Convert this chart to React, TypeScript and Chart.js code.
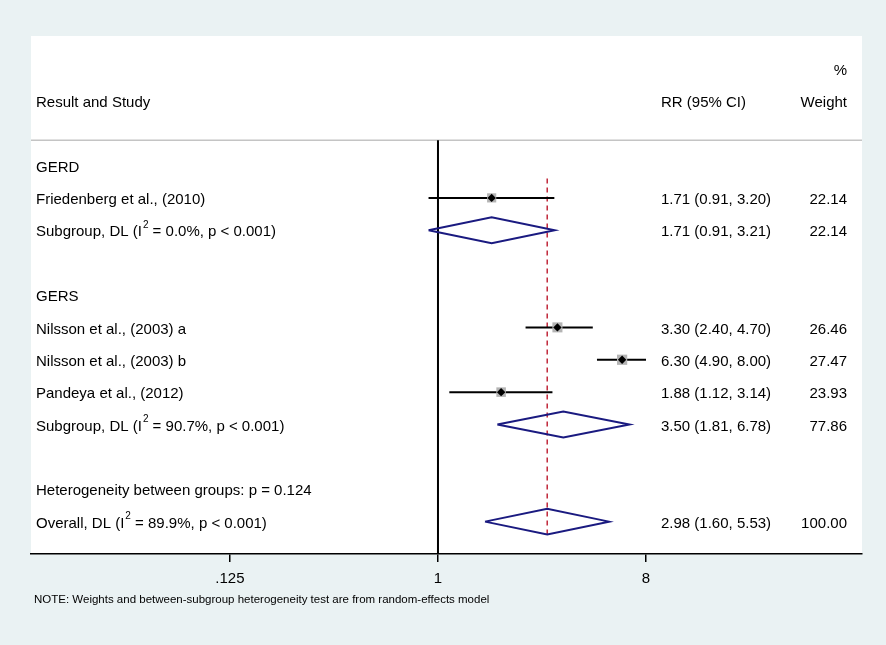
import React, { useEffect, useRef } from 'react';
import { Chart, registerables } from 'chart.js';

Chart.register(...registerables);

// ---------- data ----------
const headerStudy = 'Result and Study';
const headerEs = 'RR (95% CI)';
const headerPct = '%';
const headerWeight = 'Weight';

const groupLabels = ['GERD', 'GERS'];
const groupRows = [3, 7];

const studyNames = [
  'Friedenberg et al., (2010)',
  'Nilsson et al., (2003) a',
  'Nilsson et al., (2003) b',
  'Pandeya et al., (2012)',
];
const studyRR = [1.71, 3.3, 6.3, 1.88];
const studyLo = [0.91, 2.4, 4.9, 1.12];
const studyHi = [3.2, 4.7, 8.0, 3.14];
const studyWeight = [22.14, 26.46, 27.47, 23.93];
const studyRows = [4, 8, 9, 10];

const pooledNames = [
  'Subgroup, DL (I^2 = 0.0%, p < 0.001)',
  'Subgroup, DL (I^2 = 90.7%, p < 0.001)',
  'Overall, DL (I^2 = 89.9%, p < 0.001)',
];
const pooledRR = [1.71, 3.5, 2.98];
const pooledLo = [0.91, 1.81, 1.6];
const pooledHi = [3.21, 6.78, 5.53];
const pooledWeight = [22.14, 77.86, 100.0];
const pooledRows = [5, 11, 14];

const hetLabel = 'Heterogeneity between groups: p = 0.124';
const hetRow = 13;

const tickValues = [0.125, 1, 8];
const tickLabels = ['.125', '1', '8'];
const nullValue = 1;
const overallRR = pooledRR[2];

const noteText =
  'NOTE: Weights and between-subgroup heterogeneity test are from random-effects model';

// ---------- styling ----------
const FONT = '"Liberation Sans", Arial, sans-serif';
const BG = '#eaf2f3';
const NAVY = '#1a1a80';
const RED = '#c0283a';
const X_MIN = 0.01711;
const X_MAX = 69.3;
const Y_MIN = -1;
const Y_MAX = 15;
const DIAMOND_HALF = 0.4;
const SEP_ROW = 2.22;
const TEXT_DY = 2;

function drawRich(
  ctx: CanvasRenderingContext2D,
  text: string,
  x: number,
  y: number,
  align: 'left' | 'right'
) {
  const parts = text.split('^2');
  const mainFont = `15px ${FONT}`;
  const supFont = `10px ${FONT}`;
  ctx.textBaseline = 'middle';
  ctx.textAlign = 'left';
  ctx.font = mainFont;
  let total = 0;
  parts.forEach((p, i) => {
    ctx.font = mainFont;
    total += ctx.measureText(p).width;
    if (i < parts.length - 1) {
      ctx.font = supFont;
      total += ctx.measureText('2').width + 1;
    }
  });
  let cx = align === 'left' ? x : x - total;
  const yy = y + TEXT_DY;
  parts.forEach((p, i) => {
    ctx.font = mainFont;
    ctx.fillText(p, cx, yy);
    cx += ctx.measureText(p).width;
    if (i < parts.length - 1) {
      ctx.font = supFont;
      ctx.fillText('2', cx + 1, yy - 7);
      cx += ctx.measureText('2').width + 1;
    }
  });
}

const fmt = (v: number) => v.toFixed(2);

export default function App() {
  const ref = useRef<HTMLCanvasElement | null>(null);

  useEffect(() => {
    document.body.style.margin = '0';
    const canvas = ref.current;
    if (!canvas) return;

    const datasets: any[] = [];

    // black point markers (on top)
    datasets.push({
      type: 'scatter',
      data: studyRR.map((v, i) => ({ x: v, y: studyRows[i] })),
      pointStyle: 'rectRot',
      pointRadius: 4.2,
      backgroundColor: '#000',
      borderColor: '#000',
      borderWidth: 0,
      order: 0,
    });
    // grey weight squares
    datasets.push({
      type: 'scatter',
      data: studyRR.map((v, i) => ({ x: v, y: studyRows[i] })),
      pointStyle: 'rect',
      pointRadius: studyWeight.map((w) => (Math.sqrt(w) * 1.95) / Math.SQRT2),
      backgroundColor: '#b4b4b4',
      borderWidth: 0,
      order: 1,
    });
    // confidence interval lines
    studyRR.forEach((_, i) => {
      datasets.push({
        type: 'line',
        data: [
          { x: studyLo[i], y: studyRows[i] },
          { x: studyHi[i], y: studyRows[i] },
        ],
        borderColor: '#000',
        borderWidth: 2,
        pointRadius: 0,
        fill: false,
        order: 2,
      });
    });
    // pooled diamonds
    pooledRR.forEach((v, i) => {
      const r = pooledRows[i];
      datasets.push({
        type: 'line',
        data: [
          { x: pooledLo[i], y: r },
          { x: v, y: r - DIAMOND_HALF },
          { x: pooledHi[i], y: r },
          { x: v, y: r + DIAMOND_HALF },
          { x: pooledLo[i], y: r },
        ],
        borderColor: NAVY,
        borderWidth: 2,
        borderJoinStyle: 'miter',
        pointRadius: 0,
        fill: false,
        tension: 0,
        order: 3,
      });
    });
    // overall dashed line
    datasets.push({
      type: 'line',
      data: [
        { x: overallRR, y: 3.4 },
        { x: overallRR, y: pooledRows[2] + DIAMOND_HALF },
      ],
      borderColor: RED,
      borderWidth: 1.5,
      borderDash: [5, 4],
      pointRadius: 0,
      fill: false,
      order: 4,
    });
    // null line
    datasets.push({
      type: 'line',
      data: [
        { x: nullValue, y: SEP_ROW },
        { x: nullValue, y: Y_MAX },
      ],
      borderColor: '#000',
      borderWidth: 2,
      pointRadius: 0,
      fill: false,
      order: 5,
    });
    // header separator
    datasets.push({
      type: 'line',
      data: [
        { x: X_MIN, y: SEP_ROW },
        { x: X_MAX, y: SEP_ROW },
      ],
      borderColor: '#c4c4c4',
      borderWidth: 1.5,
      pointRadius: 0,
      fill: false,
      order: 6,
    });

    const bgPlugin = {
      id: 'bg',
      beforeDraw(chart: any) {
        const { ctx, chartArea } = chart;
        ctx.save();
        ctx.fillStyle = BG;
        ctx.fillRect(0, 0, chart.width, chart.height);
        ctx.fillStyle = '#fff';
        ctx.fillRect(
          chartArea.left,
          chartArea.top,
          chartArea.right - chartArea.left,
          chartArea.bottom - chartArea.top
        );
        ctx.restore();
      },
    };

    const textPlugin = {
      id: 'texts',
      afterDraw(chart: any) {
        const { ctx, chartArea } = chart;
        const y = chart.scales.y;
        const leftX = chartArea.left + 5;
        const esX = chartArea.right - 201;
        const wX = chartArea.right - 15;
        ctx.save();
        ctx.fillStyle = '#000';
        drawRich(ctx, headerPct, wX, y.getPixelForValue(0), 'right');
        drawRich(ctx, headerStudy, leftX, y.getPixelForValue(1), 'left');
        drawRich(ctx, headerEs, esX, y.getPixelForValue(1), 'left');
        drawRich(ctx, headerWeight, wX, y.getPixelForValue(1), 'right');
        groupLabels.forEach((g, i) =>
          drawRich(ctx, g, leftX, y.getPixelForValue(groupRows[i]), 'left')
        );
        studyNames.forEach((n, i) => {
          const py = y.getPixelForValue(studyRows[i]);
          drawRich(ctx, n, leftX, py, 'left');
          drawRich(
            ctx,
            `${fmt(studyRR[i])} (${fmt(studyLo[i])}, ${fmt(studyHi[i])})`,
            esX,
            py,
            'left'
          );
          drawRich(ctx, fmt(studyWeight[i]), wX, py, 'right');
        });
        pooledNames.forEach((n, i) => {
          const py = y.getPixelForValue(pooledRows[i]);
          drawRich(ctx, n, leftX, py, 'left');
          drawRich(
            ctx,
            `${fmt(pooledRR[i])} (${fmt(pooledLo[i])}, ${fmt(pooledHi[i])})`,
            esX,
            py,
            'left'
          );
          drawRich(ctx, fmt(pooledWeight[i]), wX, py, 'right');
        });
        drawRich(ctx, hetLabel, leftX, y.getPixelForValue(hetRow), 'left');
        ctx.font = `11.5px ${FONT}`;
        ctx.textAlign = 'left';
        ctx.textBaseline = 'middle';
        ctx.fillText(noteText, chartArea.left + 3, chartArea.bottom + 46);
        ctx.restore();
      },
    };

    const chart = new Chart(canvas, {
      type: 'scatter',
      data: { datasets },
      plugins: [bgPlugin, textPlugin],
      options: {
        animation: false,
        responsive: false,
        devicePixelRatio: 1,
        layout: { padding: { left: 31, right: 24, top: 36, bottom: 0 } },
        plugins: {
          legend: { display: false },
          tooltip: { enabled: false },
          title: { display: false },
        },
        scales: {
          x: {
            type: 'logarithmic',
            min: X_MIN,
            max: X_MAX,
            afterBuildTicks: (scale: any) => {
              scale.ticks = tickValues.map((v) => ({ value: v }));
            },
            afterFit: (scale: any) => {
              scale.height = 91;
            },
            ticks: {
              autoSkip: false,
              maxRotation: 0,
              padding: 8,
              color: '#000',
              font: { family: FONT, size: 15 },
              callback: (v: any) => {
                const idx = tickValues.indexOf(Number(v));
                return idx >= 0 ? tickLabels[idx] : '';
              },
            },
            grid: {
              display: true,
              drawOnChartArea: false,
              drawTicks: true,
              tickLength: 8,
              color: '#000',
              lineWidth: 1.5,
            },
            border: { display: true, color: '#000', width: 1.5 },
          },
          y: {
            type: 'linear',
            min: Y_MIN,
            max: Y_MAX,
            reverse: true,
            display: false,
          },
        },
      },
    });

    return () => chart.destroy();
  }, []);

  return (
    <div style={{ width: 886, height: 645 }}>
      <canvas ref={ref} width={886} height={645} style={{ display: 'block' }} />
    </div>
  );
}
